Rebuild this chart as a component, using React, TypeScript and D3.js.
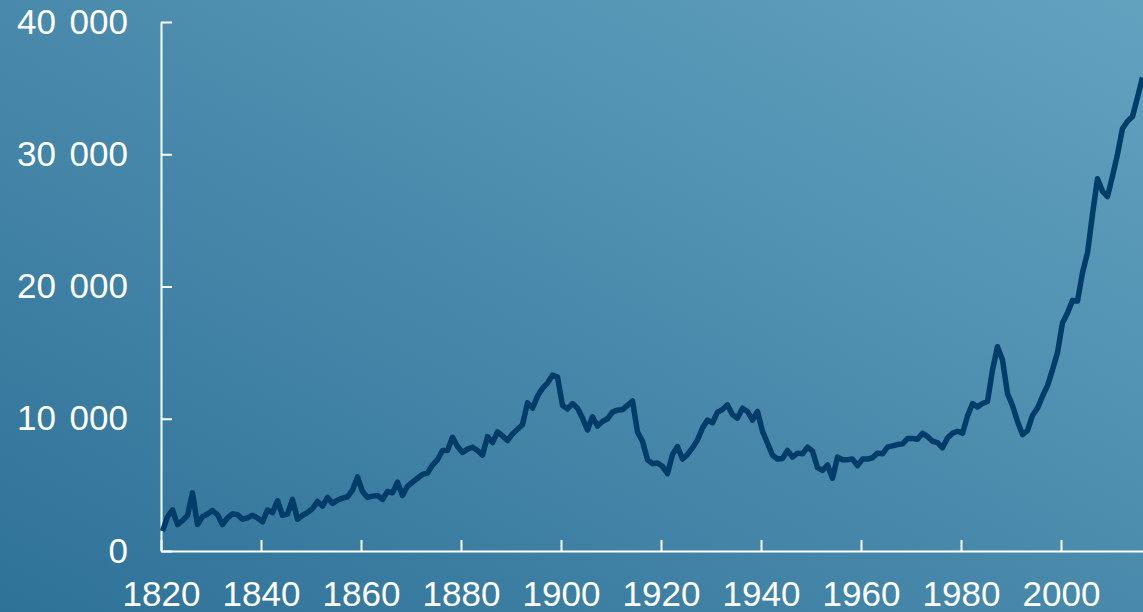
import React, { useEffect, useRef } from "react";
import * as d3 from "d3";

const WIDTH = 1143;
const HEIGHT = 612;

const startYear = 1820;
const values: number[] = [
  1500, 2600, 3100, 2000, 2300, 2700, 4400, 2000, 2600, 2800,
  3050, 2750, 2000, 2500, 2800, 2750, 2400, 2500, 2700, 2500,
  2200, 3100, 2900, 3800, 2700, 2800, 3900, 2400, 2700, 2900,
  3200, 3750, 3400, 4050, 3600, 3850, 4000, 4100, 4600, 5600,
  4500, 4050, 4150, 4200, 3900, 4500, 4400, 5200, 4200, 4900,
  5200, 5500, 5800, 5900, 6500, 6900, 7600, 7600, 8600, 7900,
  7450, 7700, 7850, 7600, 7250, 8650, 8200, 9000, 8700, 8350,
  8850, 9200, 9550, 11200, 10800, 11700, 12300, 12700, 13300, 13150,
  11000, 10750, 11150, 10800, 10050, 9150, 10150, 9450, 9800, 10000,
  10500, 10650, 10700, 11000, 11350, 9000, 8300, 6900, 6600, 6650,
  6400, 5850, 7300, 7900, 6950, 7300, 7800, 8400, 9300, 9900,
  9700, 10500, 10700, 11050, 10300, 10050, 10800, 10550, 9900, 10550,
  9050, 8150, 7250, 6950, 7000, 7600, 7100, 7400, 7350, 7850,
  7550, 6300, 6100, 6500, 5500, 7100, 6900, 6900, 6950, 6450,
  6950, 6950, 7050, 7400, 7350, 7850, 7950, 8050, 8100, 8500,
  8500, 8450, 8900, 8650, 8300, 8200, 7800, 8550, 8900, 9050,
  8900, 10200, 11150, 10900, 11150, 11300, 13700, 15450, 14450, 11900,
  11000, 9800, 8800, 9100, 10250, 10800, 11700, 12500, 13700, 15000,
  17250, 18000, 18950, 18900, 21050, 22550, 25450, 28150, 27200, 26800,
  28350, 30000, 31950, 32500, 32850, 34300, 35800,
];
const years: number[] = values.map((_, i) => startYear + i);

const xTickValues = [1820, 1840, 1860, 1880, 1900, 1920, 1940, 1960, 1980, 2000];
const yTickValues = [0, 10000, 20000, 30000, 40000];

// data points sit slightly into each year
const YEAR_OFFSET = 0.3;

const fmt = d3
  .formatLocale({ decimal: ".", thousands: " ", grouping: [3], currency: ["", ""] })
  .format(",d");

export default function App() {
  const xAxisRef = useRef<SVGGElement>(null);
  const yAxisRef = useRef<SVGGElement>(null);

  const x = d3.scaleLinear().domain([1820, 2020]).range([161, 1161]);
  const y = d3.scaleLinear().domain([0, 40000]).range([551, 22]);

  const data = years.map((yr, i) => ({ year: yr, value: values[i] }));
  const line = d3
    .line<{ year: number; value: number }>()
    .x((d) => x(d.year + YEAR_OFFSET))
    .y((d) => y(d.value));

  useEffect(() => {
    const fontFamily = "'Liberation Sans', Arial, Helvetica, sans-serif";
    if (xAxisRef.current) {
      const g = d3.select(xAxisRef.current);
      g.call(
        d3
          .axisBottom(x)
          .tickValues(xTickValues)
          .tickFormat((d) => String(d))
          .tickSizeInner(-11)
          .tickSizeOuter(0)
          .tickPadding(30)
      );
      g.select(".domain").attr("stroke", "#ffffff").attr("stroke-width", 2);
      g.selectAll(".tick line").attr("stroke", "#ffffff").attr("stroke-width", 2);
      g.selectAll(".tick text")
        .attr("fill", "#ffffff")
        .style("font-size", "35px")
        .style("font-family", fontFamily);
    }
    if (yAxisRef.current) {
      const g = d3.select(yAxisRef.current);
      g.call(
        d3
          .axisLeft(y)
          .tickValues(yTickValues)
          .tickFormat((d) => fmt(d as number))
          .tickSizeInner(-11)
          .tickSizeOuter(0)
          .tickPadding(33)
      );
      g.select(".domain").attr("stroke", "#ffffff").attr("stroke-width", 2);
      g.selectAll(".tick line").attr("stroke", "#ffffff").attr("stroke-width", 2);
      g.selectAll(".tick text")
        .attr("fill", "#ffffff")
        .style("font-size", "35px")
        .style("word-spacing", "4px")
        .style("font-family", fontFamily);
    }
  }, []);

  return (
    <div style={{ position: "absolute", left: 0, top: 0, width: WIDTH, height: HEIGHT }}>
      <svg width={WIDTH} height={HEIGHT} style={{ display: "block" }}>
        <defs>
          <linearGradient id="bg" x1="0" y1="1" x2="1" y2="0">
            <stop offset="0%" stopColor="#2f7298" />
            <stop offset="100%" stopColor="#63a2bf" />
          </linearGradient>
        </defs>
        <rect x={0} y={0} width={WIDTH} height={HEIGHT} fill="url(#bg)" />
        <g ref={yAxisRef} transform={`translate(${x(1820)},0)`} />
        <g ref={xAxisRef} transform={`translate(0,${y(0)})`} />
        <path
          d={line(data) ?? ""}
          fill="none"
          stroke="#003c69"
          strokeWidth={5.5}
          strokeLinejoin="round"
          strokeLinecap="butt"
        />
      </svg>
    </div>
  );
}
